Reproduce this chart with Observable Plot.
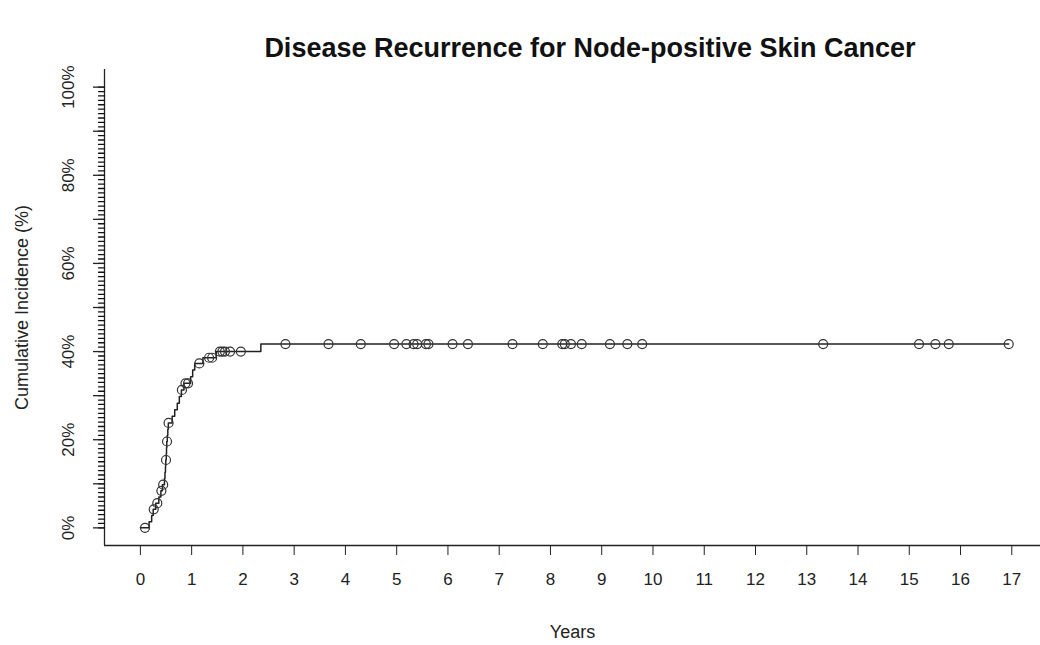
<!DOCTYPE html>
<html>
<head>
<meta charset="utf-8">
<script src="https://cdn.jsdelivr.net/npm/d3@7"></script>
<script src="https://cdn.jsdelivr.net/npm/@observablehq/plot@0.6"></script>
<style>
  body { margin: 0; background: #fff; font-family: "Liberation Sans", Arial, sans-serif; }
  #title { position: relative; width: 1040px; height: 64px; }
  #title span { position: absolute; left: 140px; width: 900px; top: 33px; line-height: 30px;
    text-align: center; font-weight: bold; font-size: 27px; color: #111; }
  svg { display: block; }
</style>
</head>
<body>
<div id="title"><span>Disease Recurrence for Node-positive Skin Cancer</span></div>
<div id="chart"></div>
<script>
// Step curve: event times (years) and cumulative incidence (%) after each event
const eventTimes = [0, 0.17, 0.22, 0.25, 0.30, 0.36, 0.40, 0.43, 0.47, 0.48, 0.49, 0.495, 0.505, 0.51, 0.515, 0.525, 0.535, 0.545, 0.62, 0.67, 0.72, 0.76, 0.80, 0.85, 0.98, 1.02, 1.06, 1.22, 1.48, 2.35];
const incidence  = [0, 1.4, 2.8, 4.2, 5.6, 7.0, 8.4, 9.8, 11.2, 12.6, 14.0, 15.4, 16.8, 18.2, 19.6, 21.0, 22.4, 23.8, 25.3, 26.8, 28.3, 29.8, 31.3, 32.8, 34.3, 35.8, 37.3, 38.6, 40.0, 41.7];
// Censoring times (years), drawn as open circles on the curve
const censorTimes = [0.09, 0.26, 0.33, 0.41, 0.445, 0.50, 0.52, 0.55, 0.81, 0.88, 0.93, 1.15, 1.34, 1.40, 1.55, 1.60, 1.65, 1.75, 1.96, 2.83, 3.67, 4.30, 4.95, 5.19, 5.33, 5.40, 5.57, 5.62, 6.09, 6.39, 7.26, 7.85, 8.23, 8.28, 8.40, 8.61, 9.16, 9.50, 9.79, 13.32, 15.19, 15.51, 15.77, 16.94];
const xTickValues = [0, 1, 2, 3, 4, 5, 6, 7, 8, 9, 10, 11, 12, 13, 14, 15, 16, 17];
const yLabelValues = [0, 20, 40, 60, 80, 100];
const yMajorTicks = [0, 10, 20, 30, 40, 50, 60, 70, 80, 90, 100];
const yMinorTicks = [];
for (let i = 0; i <= 100; i++) yMinorTicks.push(i);
const xLabel = "Years";
const yLabel = "Cumulative Incidence (%)";

const steps = eventTimes.map((t, i) => ({t, v: incidence[i]}));
const valueAt = t => { let v = 0; for (const s of steps) if (s.t <= t) v = s.v; return v; };
const lastT = censorTimes[censorTimes.length - 1];
const curve = [...steps, {t: lastT, v: valueAt(lastT)}];
const censor = censorTimes.map(t => ({t, v: valueAt(t)}));

const ink = "#222";
const plot = Plot.plot({
  width: 1040, height: 581,
  marginLeft: 104, marginRight: 0, marginTop: 5, marginBottom: 100,
  x: {domain: [-0.7, 17.56]},
  y: {domain: [-4, 104]},
  style: {fontFamily: "Liberation Sans, Arial, sans-serif", color: ink, background: "white", overflow: "visible"},
  marks: [
    Plot.ruleY([-4], {stroke: ink, strokeWidth: 1.3}),
    Plot.ruleX([-0.7], {y1: -4, y2: 104, stroke: ink, strokeWidth: 1.3}),
    Plot.axisX(xTickValues, {tickSize: 10, tickPadding: 17, fontSize: 17, label: null, tickFormat: d => String(d), stroke: ink}),
    Plot.vector(yMinorTicks, {y: d => d, frameAnchor: "left", length: 6, rotate: -90, anchor: "start", shape: "spike", r: 0, stroke: "#111", strokeWidth: 1.3}),
    Plot.axisY(yMajorTicks, {tickSize: 11, tickFormat: () => "", label: null, stroke: ink, strokeWidth: 1.3}),
    Plot.text(yLabelValues, {y: d => d, frameAnchor: "left", dx: -36, rotate: -90, textAnchor: "middle", text: d => d + "%", fontSize: 17, fill: ink}),
    Plot.text([yLabel], {frameAnchor: "left", dx: -82, rotate: -90, textAnchor: "middle", fontSize: 18, fill: ink}),
    Plot.text([xLabel], {frameAnchor: "bottom", dy: 92, fontSize: 18, fill: ink}),
    Plot.line(curve, {x: "t", y: "v", curve: "step-after", stroke: ink, strokeWidth: 1.5}),
    Plot.dot(censor, {x: "t", y: "v", r: 4.5, stroke: "#333", fill: "none", strokeWidth: 1.2})
  ]
});
document.getElementById("chart").appendChild(plot);
</script>
</body>
</html>
